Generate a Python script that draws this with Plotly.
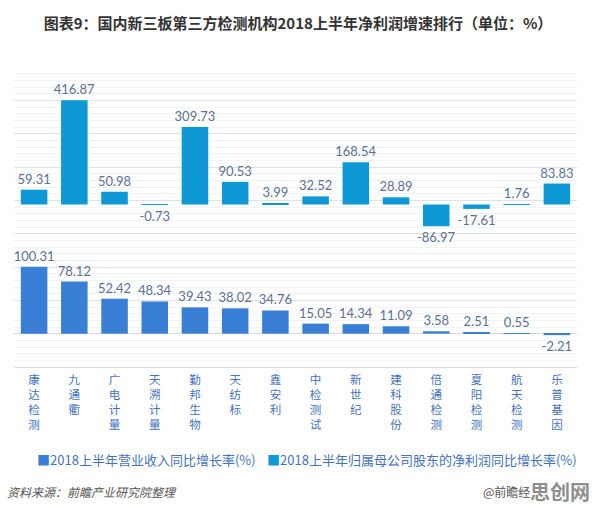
import plotly.graph_objects as go

categories = ["康达检测", "九通衢", "广电计量", "天溯计量", "勤邦生物", "天纺标", "鑫安利",
              "中检测试", "新世纪", "建科股份", "倍通检测", "夏阳检测", "航天检测", "乐普基因"]
profit_growth = [59.31, 416.87, 50.98, -0.73, 309.73, 90.53, 3.99,
                 32.52, 168.54, 28.89, -86.97, -17.61, 1.76, 83.83]
revenue_growth = [100.31, 78.12, 52.42, 48.34, 39.43, 38.02, 34.76,
                  15.05, 14.34, 11.09, 3.58, 2.51, 0.55, -2.21]

name_rev = "2018上半年营业收入同比增长率(%)"
name_profit = "2018上半年归属母公司股东的净利润同比增长率(%)"

tick_text = ["<br>".join(list(c)) for c in categories]

CJK = "Noto Sans CJK SC"
NUM = "Lato, Noto Sans CJK SC"
label_color = "#5d6f95"
rev_color = "#3a7fd6"
profit_color = "#0f98d6"

fig = go.Figure()
fig.add_trace(go.Bar(
    x=categories, y=revenue_growth, name=name_rev, yaxis="y2",
    marker=dict(color=rev_color, line=dict(width=0)),
    width=0.66,
    text=[f"{v:.2f}" for v in revenue_growth], textposition="outside",
    textfont=dict(family=NUM, size=13, color=label_color),
    cliponaxis=False, showlegend=False,
))
fig.add_trace(go.Bar(
    x=categories, y=profit_growth, name=name_profit, yaxis="y",
    marker=dict(color=profit_color, line=dict(width=0)),
    width=0.66,
    text=[f"{v:.2f}" for v in profit_growth], textposition="outside",
    textfont=dict(family=NUM, size=13, color=label_color),
    cliponaxis=False, showlegend=False,
))

PW = 563.0
PH = 300.4
def px_x(x):
    return (x - 14) / PW
def px_y(y):
    return -(y - 367.7) / PH

foot_y = px_y(492)
leg_y = px_y(460)

fig.update_layout(
    width=596, height=508,
    margin=dict(l=14, r=19, t=67, b=141),
    paper_bgcolor="white", plot_bgcolor="white",
    barmode="overlay",
    uniformtext=dict(minsize=13, mode="show"),
    title=dict(text="<b>图表9：国内新三板第三方检测机构2018上半年净利润增速排行（单位：%）</b>",
               x=0.5, xanchor="center", y=1 - 24 / 508, yanchor="middle",
               font=dict(family=CJK, size=15, color="#333333")),
    xaxis=dict(tickmode="array", tickvals=categories, ticktext=tick_text,
               tickfont=dict(family=CJK, size=11.5, color="#4472be"),
               showgrid=False, showline=True, linecolor="#d9dde5", ticks="",
               ticklabelstandoff=2),
    yaxis=dict(range=[-650, 550], showgrid=False, zeroline=False,
               showticklabels=False, ticks=""),
    yaxis2=dict(range=[-50, 400], overlaying="y", side="left", dtick=50,
                showgrid=True, gridcolor="#dde2ea", gridwidth=1,
                minor=dict(dtick=10, showgrid=True, gridcolor="#f1f3f7", gridwidth=1),
                zeroline=True, zerolinecolor="#d3d8e2", zerolinewidth=1,
                showticklabels=False, ticks=""),
    showlegend=False,
    annotations=[
        dict(text=f'<span style="color:{rev_color}">■</span>{name_rev}',
             xref="paper", yref="paper", x=px_x(35), xanchor="left", y=leg_y, yanchor="middle",
             showarrow=False, font=dict(family=CJK, size=13, color="#4472be")),
        dict(text=f'<span style="color:{profit_color}">■</span>{name_profit}',
             xref="paper", yref="paper", x=px_x(265), xanchor="left", y=leg_y, yanchor="middle",
             showarrow=False, font=dict(family=CJK, size=13, color="#4472be")),
        dict(text="<i>资料来源：前瞻产业研究院整理</i>", xref="paper", yref="paper",
             x=px_x(5), xanchor="left", y=foot_y, yanchor="middle",
             showarrow=False, font=dict(family=CJK, size=12, color="#555555")),
        dict(text="@前瞻经", xref="paper", yref="paper",
             x=px_x(481), xanchor="left", y=foot_y, yanchor="middle",
             showarrow=False, font=dict(family=CJK, size=12, color="#555555")),
        dict(text="<b>思创网</b>", xref="paper", yref="paper",
             x=px_x(592), xanchor="right", y=foot_y, yanchor="middle",
             showarrow=False,
             font=dict(family=CJK, size=20, color="#8f8f8f")),
    ],
)

fig.write_html("out.html")
